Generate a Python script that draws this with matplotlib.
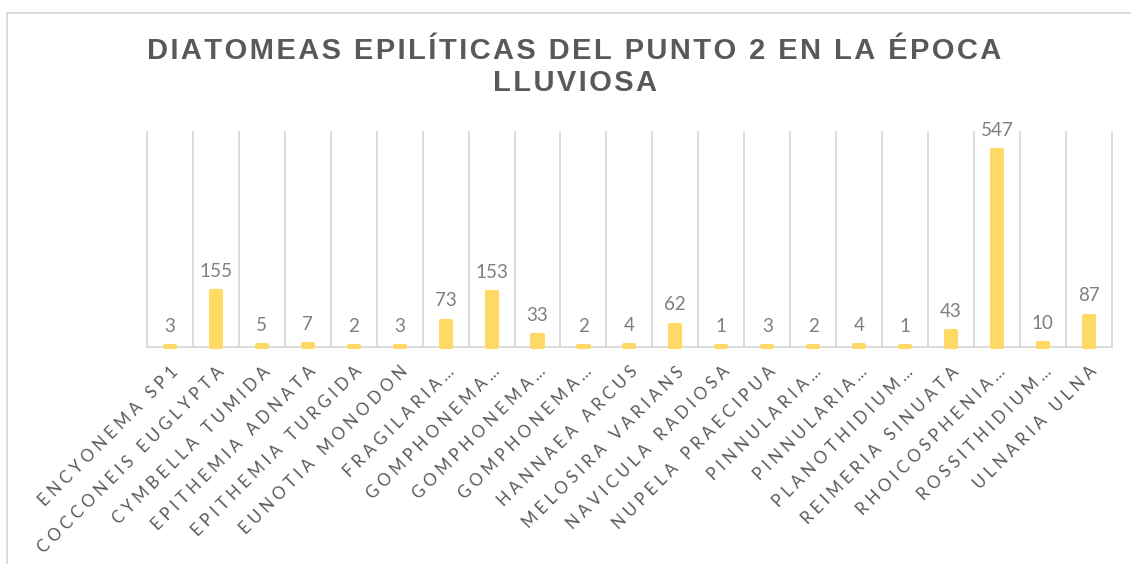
import matplotlib
matplotlib.use('Agg')
import matplotlib.pyplot as plt
from matplotlib.lines import Line2D

# Data
species = ['ENCYONEMA SP1', 'COCCONEIS EUGLYPTA', 'CYMBELLA TUMIDA', 'EPITHEMIA ADNATA',
           'EPITHEMIA TURGIDA', 'EUNOTIA MONODON', 'FRAGILARIA…', 'GOMPHONEMA…',
           'GOMPHONEMA…', 'GOMPHONEMA…', 'HANNAEA ARCUS', 'MELOSIRA VARIANS',
           'NAVICULA RADIOSA', 'NUPELA PRAECIPUA', 'PINNULARIA…', 'PINNULARIA…',
           'PLANOTHIDIUM…', 'REIMERIA SINUATA', 'RHOICOSPHENIA…', 'ROSSITHIDIUM…',
           'ULNARIA ULNA']
counts = [3, 155, 5, 7, 2, 3, 73, 153, 33, 2, 4, 62, 1, 3, 2, 4, 1, 43, 547, 10, 87]

title = 'DIATOMEAS EPILÍTICAS DEL PUNTO 2 EN LA ÉPOCA\nLLUVIOSA'

bar_color = '#FFD966'
grid_color = '#D9D9D9'
text_color = '#595959'
label_color = '#7F7F7F'


def spaced(s, sep='\u200a'):
    # rough letter spacing like the Excel style
    return '\n'.join(sep.join(line) for line in s.split('\n'))


fig = plt.figure(figsize=(11.31, 5.64), dpi=100)
ax = fig.add_axes([0.130, 0.385, 0.853, 0.383])

x = list(range(len(species)))
ax.bar(x, counts, width=0.22, color=bar_color, edgecolor=bar_color,
       linewidth=3, joinstyle='round', clip_on=False, zorder=3)

for xi, v in zip(x, counts):
    ax.annotate(str(v), (xi, v), xytext=(0, 8), textcoords='offset points',
                ha='center', va='bottom', fontsize=13.5, color=label_color,
                family=['Lato', 'DejaVu Sans'])

ax.set_xlim(-0.5, len(species) - 0.5)
ax.set_ylim(0, 600)

# vertical gridlines between categories
ax.vlines([i - 0.5 for i in range(len(species) + 1)], 0, 600,
          color=grid_color, linewidth=1.3, zorder=1, clip_on=False)

for s in ['top', 'right', 'left']:
    ax.spines[s].set_visible(False)
ax.spines['bottom'].set_color(grid_color)
ax.spines['bottom'].set_linewidth(1.3)
ax.spines['bottom'].set_zorder(2)

ax.set_yticks([])
ax.set_xticks(x)
ax.set_xticklabels([spaced(s, '\u2009\u2009') for s in species], rotation=45,
                   ha='right', rotation_mode='anchor', fontsize=12, color=text_color,
                   family=['Lato', 'DejaVu Sans'])
ax.tick_params(axis='x', length=0, pad=12)

fig.text(0.508, 0.881, spaced(title, '\u200a'), ha='center', va='center',
         fontsize=21, fontweight='bold', color=text_color, linespacing=1.2,
         family=['Liberation Sans', 'DejaVu Sans'])

# chart border (top and left visible in the crop)
fig.add_artist(Line2D([7 / 1131, 7 / 1131], [0, 1 - 13 / 564], color=grid_color,
                      linewidth=1.3, transform=fig.transFigure))
fig.add_artist(Line2D([7 / 1131, 1], [1 - 13 / 564, 1 - 13 / 564], color=grid_color,
                      linewidth=1.3, transform=fig.transFigure))

fig.savefig('out.png', dpi=100)
